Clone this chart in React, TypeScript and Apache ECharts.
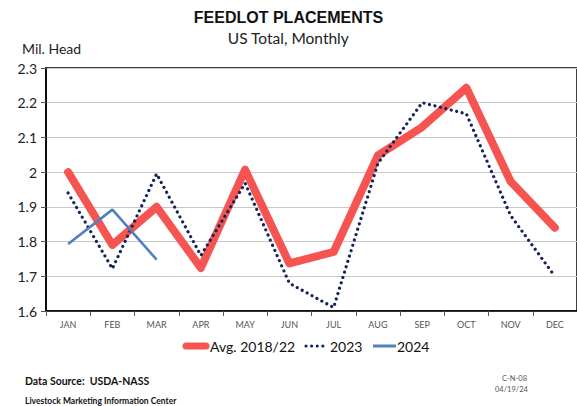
import React, { useEffect, useRef } from "react";
import * as echarts from "echarts";

const months = ["JAN", "FEB", "MAR", "APR", "MAY", "JUN", "JUL", "AUG", "SEP", "OCT", "NOV", "DEC"];
const avg1822 = [2.0, 1.79, 1.9, 1.724, 2.007, 1.737, 1.77, 2.048, 2.13, 2.243, 1.973, 1.84];
const y2023 = [1.94, 1.722, 1.995, 1.76, 1.968, 1.68, 1.61, 2.025, 2.2, 2.168, 1.875, 1.7];
const y2024 = [1.793, 1.892, 1.748];
const yTicks = { min: 1.6, max: 2.3, interval: 0.1 };
const seriesNames = ["Avg. 2018/22", "2023", "2024"];

export default function App() {
  const ref = useRef<HTMLDivElement>(null);
  useEffect(() => {
    if (!ref.current) return;
    const chart = echarts.init(ref.current, undefined, { renderer: "svg" });
    const font = "Lato, 'Noto Sans', sans-serif";
    const red = "#f55451";
    const navy = "#142458";
    const blue = "#4f81bd";
    const ly = 346;
    chart.setOption({
      animation: false,
      backgroundColor: "#fff",
      grid: {
        left: 46,
        top: 68,
        width: 532,
        height: 243,
        show: true,
        borderColor: "#000",
        borderWidth: 1.5,
        backgroundColor: "transparent",
      },
      xAxis: {
        type: "category",
        data: months,
        boundaryGap: true,
        axisLine: { show: true, lineStyle: { color: "#000", width: 1.5 } },
        axisTick: { show: true, length: 5, lineStyle: { color: "#555" } },
        axisLabel: { color: "#555", fontSize: 9, fontFamily: font, margin: 9 },
        splitLine: { show: false },
      },
      yAxis: {
        type: "value",
        min: yTicks.min,
        max: yTicks.max,
        interval: yTicks.interval,
        axisLine: { show: true, lineStyle: { color: "#000", width: 1.5 } },
        axisTick: { show: true, length: 5, lineStyle: { color: "#555" } },
        axisLabel: {
          color: "#222",
          fontSize: 14,
          fontFamily: font,
          margin: 9,
          formatter: (v: number) => String(Math.round(v * 10) / 10),
        },
        splitLine: { show: true, lineStyle: { color: "#c8c8c8", width: 1.2 } },
      },
      series: [
        {
          name: seriesNames[0],
          type: "line",
          data: avg1822,
          symbol: "none",
          z: 1,
          lineStyle: { color: red, width: 8, cap: "round", join: "round" },
          itemStyle: { color: red },
        },
        {
          name: seriesNames[1],
          type: "line",
          data: y2023,
          symbol: "none",
          z: 2,
          lineStyle: { color: navy, width: 3.2, type: [0.01, 5.6], cap: "round" },
          itemStyle: { color: navy },
        },
        {
          name: seriesNames[2],
          type: "line",
          data: y2024,
          symbol: "none",
          z: 3,
          lineStyle: { color: blue, width: 2.6 },
          itemStyle: { color: blue },
        },
      ],
      graphic: [
        {
          type: "text",
          left: "center",
          top: 9,
          style: { text: "FEEDLOT PLACEMENTS", fontSize: 16, fontWeight: "bold", fontFamily: "'Liberation Sans', Arial, sans-serif", fill: "#111" },
          x: -11,
        },
        {
          type: "text",
          left: "center",
          top: 30,
          style: { text: "US Total, Monthly", fontSize: 15.5, fontFamily: font, fill: "#222" },
          x: -11,
        },
        {
          type: "text",
          left: 22,
          top: 41,
          style: { text: "Mil. Head", fontSize: 14, fontFamily: font, fill: "#222" },
        },
        // legend
        { type: "line", shape: { x1: 186, y1: ly, x2: 206, y2: ly }, style: { stroke: red, lineWidth: 7, lineCap: "round" } },
        { type: "text", x: 210, y: ly, style: { text: seriesNames[0], fontSize: 14, fontFamily: font, fill: "#111", verticalAlign: "middle" } },
        { type: "line", shape: { x1: 306, y1: ly, x2: 327, y2: ly }, style: { stroke: navy, lineWidth: 3.2, lineDash: [0.01, 5.6], lineCap: "round" } },
        { type: "text", x: 330, y: ly, style: { text: seriesNames[1], fontSize: 14, fontFamily: font, fill: "#111", verticalAlign: "middle" } },
        { type: "line", shape: { x1: 373, y1: ly, x2: 396, y2: ly }, style: { stroke: blue, lineWidth: 3 } },
        { type: "text", x: 397, y: ly, style: { text: seriesNames[2], fontSize: 14, fontFamily: font, fill: "#111", verticalAlign: "middle" } },
        {
          type: "text",
          left: 25,
          top: 375,
          style: { text: "Data Source:  USDA-NASS", fontSize: 10.5, fontWeight: "bold", fontFamily: font, fill: "#111" },
        },
        {
          type: "text",
          left: 25,
          top: 396,
          style: { text: "Livestock Marketing Information Center", fontSize: 8.5, fontWeight: "bold", fontFamily: font, fill: "#111" },
        },
        {
          type: "text",
          left: 502,
          top: 374,
          style: { text: "C-N-08", fontSize: 7.5, fontFamily: font, fill: "#555" },
        },
        {
          type: "text",
          left: 495,
          top: 385,
          style: { text: "04/19/24", fontSize: 7.5, fontFamily: font, fill: "#555" },
        },
      ],
    });
    return () => chart.dispose();
  }, []);
  return <div ref={ref} style={{ position: "fixed", left: 0, top: 0, width: 577, height: 406 }} />;
}
